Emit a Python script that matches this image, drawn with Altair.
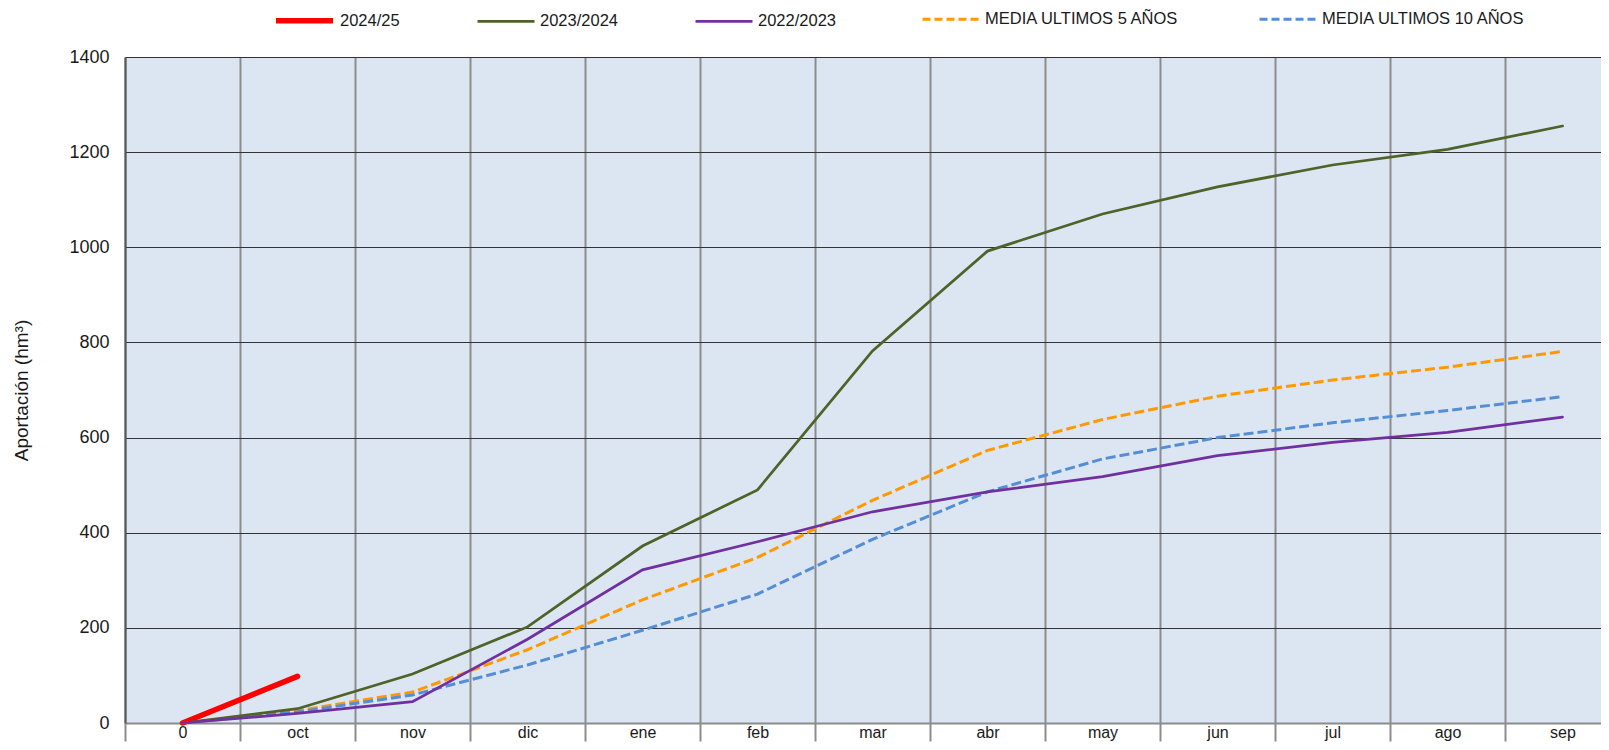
import json
import altair as alt
import pandas as pd

# ---- data ----
meses = ["0", "oct", "nov", "dic", "ene", "feb", "mar", "abr", "may", "jun", "jul", "ago", "sep"]
serie_2024_25 = [0, 98]
serie_2023_2024 = [0, 30, 103, 202, 372, 490, 782, 992, 1070, 1127, 1173, 1206, 1255]
serie_2022_2023 = [0, 20, 45, 176, 322, 381, 444, 486, 518, 562, 590, 611, 643]
media_5 = [0, 26, 65, 154, 259, 348, 468, 573, 638, 687, 721, 748, 781]
media_10 = [0, 23, 59, 122, 195, 271, 386, 486, 555, 600, 631, 657, 686]

solid_names = ["2024/25", "2023/2024", "2022/2023"]
solid_colors = ["#ff0000", "#4f6228", "#7030a0"]
solid_widths = [5.5, 2.75, 2.75]
dashed_names = ["MEDIA ULTIMOS 5 AÑOS", "MEDIA ULTIMOS 10 AÑOS"]
dashed_colors = ["#ff9900", "#558ed5"]


def frame(names, series):
    rows = []
    for name, vals in zip(names, series):
        for i, v in enumerate(vals):
            rows.append({"idx": i, "valor": v, "serie": name})
    return pd.DataFrame(rows)


solid_df = frame(solid_names, [serie_2024_25, serie_2023_2024, serie_2022_2023])
dashed_df = frame(dashed_names, [media_5, media_10])

W = 1476
H = 666
BAND = 115.0
xmax = -0.5 + W / BAND

FONT = "Liberation Sans"
TXT = "#1a1a1a"

x_axis = alt.Axis(
    values=[i - 0.5 for i in range(len(meses))],
    labelExpr=json.dumps(meses) + "[round(datum.value + 0.5)]",
    labelOffset=BAND / 2,
    labelFlush=False,
    labelOverlap=False,
    labelBaseline="top",
    labelPadding=-17,
    labelFont=FONT,
    labelFontSize=16,
    labelColor=TXT,
    grid=True,
    gridColor="#8c8c8c",
    gridWidth=2,
    ticks=True,
    tickSize=18,
    tickColor="#8c8c8c",
    tickWidth=2,
    domainColor="#8c8c8c",
    domainWidth=2,
    title=None,
)
x_enc = alt.X("idx:Q", scale=alt.Scale(domain=[-0.5, xmax], nice=False, zero=False), axis=x_axis)

y_axis = alt.Axis(
    values=list(range(0, 1401, 200)),
    format="d",
    title="Aportación (hm³)",
    titleFont=FONT,
    titleFontSize=19,
    titleFontWeight="normal",
    titleColor=TXT,
    titlePadding=37,
    labelFont=FONT,
    labelFontSize=18,
    labelColor=TXT,
    labelPadding=16,
    ticks=False,
    domainColor="#595959",
    domainWidth=2,
    gridColor="#333333",
    gridWidth=1.2,
)
y_enc = alt.Y("valor:Q", scale=alt.Scale(domain=[0, 1400], nice=False), axis=y_axis)

LEG_Y = -68
legend_solid = alt.Legend(
    orient="none",
    legendX=148,
    legendY=LEG_Y,
    direction="horizontal",
    title=None,
    symbolType="stroke",
    symbolSize=3249,
    labelFont=FONT,
    labelFontSize=16.5,
    labelColor=TXT,
    labelOffset=4,
    labelLimit=400,
    columnPadding=72,
    padding=0,
)
legend_dashed = alt.Legend(
    orient="none",
    legendX=796,
    legendY=LEG_Y,
    direction="horizontal",
    title=None,
    symbolType="stroke",
    symbolSize=3249,
    symbolStrokeWidth=3,
    symbolDash=[8, 4],
    labelFont=FONT,
    labelFontSize=16.5,
    labelColor=TXT,
    labelOffset=4,
    labelLimit=400,
    columnPadding=73,
    padding=0,
)

dashed_layer = alt.Chart(dashed_df).mark_line(strokeWidth=3, strokeDash=[10, 4]).encode(
    x=x_enc,
    y=y_enc,
    color=alt.Color("serie:N", scale=alt.Scale(domain=dashed_names, range=dashed_colors), legend=legend_dashed),
)

solid_layer = alt.Chart(solid_df).mark_line(strokeCap="round").encode(
    x=x_enc,
    y=y_enc,
    color=alt.Color("serie:N", scale=alt.Scale(domain=solid_names, range=solid_colors), legend=legend_solid),
    strokeWidth=alt.StrokeWidth(
        "serie:N",
        scale=alt.Scale(type="ordinal", domain=solid_names, range=solid_widths),
        legend=legend_solid,
    ),
)

chart = (
    alt.layer(dashed_layer, solid_layer)
    .resolve_scale(color="independent", strokeWidth="independent")
    .properties(
        width=W,
        height=H,
        autosize=alt.AutoSizeParams(type="none"),
        padding={"left": 117, "top": 49, "right": 0, "bottom": 19},
    )
    .configure_view(fill="#dce6f2", stroke="transparent")
)

chart.save("out.html", embed_options={"renderer": "svg", "actions": False})
